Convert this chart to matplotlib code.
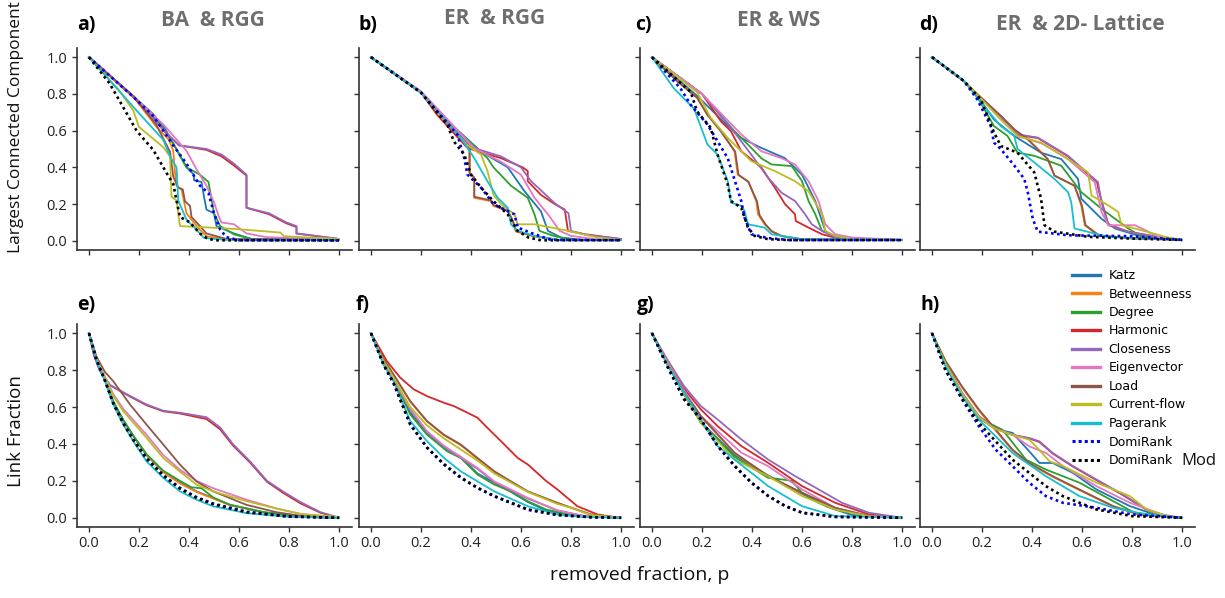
import matplotlib
matplotlib.use('Agg')
import matplotlib.pyplot as plt
from matplotlib.lines import Line2D

# ---------------- data: (removed fraction p, value) breakpoints ----------------
NAMES = ['Katz', 'Betweenness', 'Degree', 'Harmonic', 'Closeness', 'Eigenvector',
         'Load', 'Current-flow', 'Pagerank', 'DomiRank', 'DomiRank']
TITLES = ['BA  & RGG', 'ER  & RGG', 'ER & WS', 'ER  & 2D- Lattice']
LETTERS_TOP = ['a)', 'b)', 'c)', 'd)']
LETTERS_BOT = ['e)', 'f)', 'g)', 'h)']
TICKS = [0.0, 0.2, 0.4, 0.6, 0.8, 1.0]

# Panel a: BA & RGG, largest connected component
A_KATZ = [(0, 1), (0.18, 0.78), (0.30, 0.62), (0.39, 0.40), (0.42, 0.36), (0.42, 0.33), (0.45, 0.32), (0.46, 0.24), (0.47, 0.17), (0.50, 0.15), (0.51, 0.08), (0.58, 0.04), (0.65, 0.01), (1.0, 0.005)]
A_BETW = [(0, 1), (0.18, 0.78), (0.27, 0.62), (0.32, 0.55), (0.337, 0.49), (0.344, 0.37), (0.35, 0.30), (0.37, 0.28), (0.39, 0.15), (0.41, 0.115), (0.444, 0.06), (0.47, 0.025), (0.55, 0.008), (1.0, 0.005)]
A_DEG = [(0, 1), (0.18, 0.785), (0.257, 0.69), (0.337, 0.53), (0.39, 0.40), (0.444, 0.36), (0.478, 0.32), (0.50, 0.15), (0.525, 0.08), (0.58, 0.035), (0.65, 0.01), (1.0, 0.005)]
A_HARM = [(0, 1), (0.18, 0.78), (0.30, 0.60), (0.36, 0.52), (0.47, 0.495), (0.53, 0.46), (0.58, 0.41), (0.63, 0.355), (0.63, 0.18), (0.72, 0.145), (0.79, 0.095), (0.83, 0.075), (0.83, 0.04), (1.0, 0.01)]
A_CLOS = [(0, 1), (0.18, 0.78), (0.30, 0.60), (0.36, 0.52), (0.47, 0.50), (0.53, 0.47), (0.58, 0.42), (0.63, 0.36), (0.63, 0.18), (0.72, 0.15), (0.79, 0.10), (0.83, 0.08), (0.83, 0.04), (1.0, 0.01)]
A_EIG = [(0, 1), (0.18, 0.785), (0.30, 0.63), (0.39, 0.49), (0.43, 0.39), (0.47, 0.30), (0.50, 0.21), (0.52, 0.13), (0.53, 0.10), (0.58, 0.09), (0.63, 0.04), (0.71, 0.02), (1.0, 0.005)]
A_LOAD = [(0, 1), (0.18, 0.785), (0.27, 0.63), (0.324, 0.485), (0.337, 0.35), (0.357, 0.29), (0.375, 0.28), (0.384, 0.215), (0.404, 0.19), (0.41, 0.13), (0.444, 0.08), (0.47, 0.04), (0.55, 0.01), (1.0, 0.005)]
A_CURR = [(0, 1), (0.12, 0.82), (0.177, 0.71), (0.2, 0.62), (0.297, 0.51), (0.324, 0.46), (0.33, 0.24), (0.35, 0.22), (0.364, 0.08), (0.444, 0.075), (0.58, 0.065), (0.766, 0.045), (0.78, 0.025), (1.0, 0.01)]
A_PAGE = [(0, 1), (0.19, 0.71), (0.297, 0.55), (0.324, 0.46), (0.35, 0.40), (0.357, 0.22), (0.39, 0.115), (0.43, 0.06), (0.46, 0.016), (0.55, 0.005), (1.0, 0.005)]
A_DOMI = [(0, 1), (0.18, 0.78), (0.257, 0.68), (0.337, 0.52), (0.39, 0.42), (0.444, 0.30), (0.478, 0.26), (0.50, 0.15), (0.525, 0.06), (0.55, 0.02), (0.6, 0.003), (1.0, 0.002)]
A_MOD = [(0, 1), (0.083, 0.856), (0.19, 0.60), (0.257, 0.495), (0.31, 0.37), (0.337, 0.31), (0.35, 0.22), (0.364, 0.13), (0.404, 0.10), (0.444, 0.04), (0.47, 0.016), (0.5, 0.003), (1.0, 0.002)]

# Panel b: ER & RGG, largest connected component
B_KATZ = [(0, 1), (0.2, 0.807), (0.3, 0.66), (0.44, 0.486), (0.547, 0.40), (0.614, 0.27), (0.68, 0.16), (0.708, 0.054), (0.76, 0.018), (0.85, 0.005), (1.0, 0.005)]
B_BETW = [(0, 1), (0.2, 0.807), (0.3, 0.65), (0.373, 0.54), (0.393, 0.505), (0.393, 0.37), (0.413, 0.34), (0.413, 0.234), (0.48, 0.216), (0.49, 0.19), (0.547, 0.162), (0.567, 0.108), (0.58, 0.05), (0.65, 0.025), (0.75, 0.005), (1.0, 0.005)]
B_DEG = [(0, 1), (0.2, 0.81), (0.3, 0.66), (0.466, 0.45), (0.49, 0.40), (0.56, 0.30), (0.627, 0.234), (0.654, 0.144), (0.674, 0.054), (0.73, 0.027), (0.8, 0.005), (1.0, 0.005)]
B_HARM = [(0, 1), (0.2, 0.807), (0.265, 0.685), (0.386, 0.505), (0.52, 0.45), (0.607, 0.40), (0.627, 0.38), (0.627, 0.325), (0.68, 0.25), (0.735, 0.2), (0.775, 0.17), (0.788, 0.054), (0.855, 0.036), (1.0, 0.01)]
B_CLOS = [(0, 1), (0.2, 0.807), (0.3, 0.66), (0.4, 0.51), (0.52, 0.46), (0.6, 0.40), (0.64, 0.325), (0.735, 0.205), (0.79, 0.15), (0.80, 0.054), (0.87, 0.03), (1.0, 0.01)]
B_EIG = [(0, 1), (0.2, 0.815), (0.3, 0.67), (0.413, 0.505), (0.52, 0.43), (0.6, 0.36), (0.654, 0.234), (0.708, 0.144), (0.755, 0.054), (0.8, 0.027), (0.9, 0.008), (1.0, 0.005)]
B_LOAD = [(0, 1), (0.2, 0.807), (0.3, 0.65), (0.373, 0.54), (0.395, 0.505), (0.395, 0.37), (0.413, 0.345), (0.413, 0.24), (0.48, 0.22), (0.49, 0.195), (0.547, 0.165), (0.567, 0.11), (0.58, 0.054), (0.65, 0.027), (0.75, 0.005), (1.0, 0.005)]
B_CURR = [(0, 1), (0.2, 0.807), (0.3, 0.65), (0.386, 0.52), (0.44, 0.47), (0.466, 0.38), (0.49, 0.25), (0.52, 0.2), (0.574, 0.144), (0.587, 0.09), (0.654, 0.09), (0.79, 0.054), (0.9, 0.02), (1.0, 0.005)]
B_PAGE = [(0, 1), (0.2, 0.807), (0.3, 0.65), (0.36, 0.56), (0.413, 0.45), (0.466, 0.324), (0.507, 0.234), (0.547, 0.18), (0.56, 0.09), (0.587, 0.054), (0.654, 0.027), (0.75, 0.005), (1.0, 0.005)]
B_DOMI = [(0, 1), (0.2, 0.807), (0.3, 0.65), (0.346, 0.577), (0.373, 0.45), (0.386, 0.36), (0.44, 0.29), (0.49, 0.2), (0.574, 0.144), (0.587, 0.072), (0.654, 0.036), (0.72, 0.005), (1.0, 0.003)]
B_MOD = [(0, 1), (0.2, 0.807), (0.306, 0.63), (0.332, 0.54), (0.373, 0.47), (0.4, 0.36), (0.44, 0.29), (0.49, 0.216), (0.547, 0.144), (0.587, 0.054), (0.63, 0.018), (0.68, 0.003), (1.0, 0.003)]

# Panel c: ER & WS, largest connected component
C_KATZ = [(0, 1), (0.18, 0.79), (0.3, 0.63), (0.357, 0.56), (0.437, 0.506), (0.532, 0.45), (0.6, 0.36), (0.653, 0.217), (0.68, 0.108), (0.693, 0.054), (0.733, 0.018), (0.8, 0.006), (1.0, 0.005)]
C_BETW = [(0, 1), (0.1, 0.87), (0.18, 0.78), (0.222, 0.687), (0.276, 0.597), (0.33, 0.488), (0.343, 0.36), (0.384, 0.325), (0.417, 0.217), (0.424, 0.145), (0.45, 0.09), (0.478, 0.054), (0.518, 0.027), (0.6, 0.008), (1.0, 0.005)]
C_DEG = [(0, 1), (0.2, 0.8), (0.33, 0.597), (0.384, 0.524), (0.437, 0.45), (0.478, 0.416), (0.559, 0.407), (0.6, 0.325), (0.626, 0.217), (0.653, 0.145), (0.68, 0.054), (0.733, 0.027), (0.8, 0.006), (1.0, 0.005)]
C_HARM = [(0, 1), (0.2, 0.8), (0.276, 0.65), (0.316, 0.597), (0.357, 0.488), (0.437, 0.4), (0.491, 0.29), (0.532, 0.2), (0.572, 0.145), (0.575, 0.108), (0.626, 0.072), (0.68, 0.036), (0.75, 0.01), (1.0, 0.005)]
C_CLOS = [(0, 1), (0.2, 0.8), (0.316, 0.615), (0.397, 0.47), (0.464, 0.344), (0.518, 0.262), (0.572, 0.217), (0.612, 0.145), (0.639, 0.09), (0.68, 0.054), (0.733, 0.018), (0.8, 0.008), (1.0, 0.005)]
C_EIG = [(0, 1), (0.2, 0.8), (0.357, 0.58), (0.437, 0.488), (0.518, 0.45), (0.572, 0.416), (0.626, 0.325), (0.666, 0.217), (0.693, 0.09), (0.733, 0.036), (0.8, 0.018), (1.0, 0.005)]
C_LOAD = [(0, 1), (0.1, 0.87), (0.18, 0.78), (0.222, 0.685), (0.276, 0.595), (0.333, 0.485), (0.346, 0.36), (0.386, 0.32), (0.42, 0.215), (0.43, 0.14), (0.455, 0.088), (0.48, 0.05), (0.52, 0.025), (0.6, 0.008), (1.0, 0.005)]
C_CURR = [(0, 1), (0.18, 0.81), (0.235, 0.67), (0.303, 0.56), (0.397, 0.434), (0.491, 0.38), (0.572, 0.325), (0.626, 0.27), (0.68, 0.145), (0.693, 0.054), (0.733, 0.027), (0.8, 0.008), (1.0, 0.005)]
C_PAGE = [(0, 1), (0.0875, 0.83), (0.168, 0.72), (0.222, 0.524), (0.262, 0.47), (0.303, 0.325), (0.316, 0.208), (0.357, 0.19), (0.37, 0.163), (0.384, 0.09), (0.45, 0.072), (0.478, 0.036), (0.6, 0.009), (1.0, 0.005)]
C_DOMI = [(0, 1), (0.114, 0.83), (0.155, 0.74), (0.222, 0.633), (0.303, 0.45), (0.357, 0.217), (0.37, 0.127), (0.397, 0.036), (0.464, 0.015), (0.55, 0.004), (1.0, 0.004)]
C_MOD = [(0, 1), (0.155, 0.81), (0.18, 0.705), (0.235, 0.615), (0.262, 0.47), (0.303, 0.307), (0.316, 0.217), (0.357, 0.18), (0.384, 0.072), (0.41, 0.027), (0.464, 0.009), (0.55, 0.004), (1.0, 0.004)]

# Panel d: ER & 2D lattice, largest connected component
D_KATZ = [(0, 1), (0.128, 0.87), (0.168, 0.815), (0.248, 0.66), (0.329, 0.571), (0.436, 0.48), (0.517, 0.445), (0.584, 0.337), (0.597, 0.229), (0.624, 0.193), (0.678, 0.12), (0.732, 0.067), (0.82, 0.03), (1.0, 0.005)]
D_BETW = [(0, 1), (0.128, 0.87), (0.168, 0.815), (0.275, 0.68), (0.329, 0.607), (0.383, 0.553), (0.463, 0.445), (0.49, 0.355), (0.57, 0.3), (0.597, 0.193), (0.611, 0.085), (0.664, 0.03), (0.8, 0.013), (1.0, 0.005)]
D_DEG = [(0, 1), (0.128, 0.87), (0.168, 0.815), (0.248, 0.625), (0.302, 0.571), (0.342, 0.48), (0.409, 0.463), (0.517, 0.409), (0.597, 0.265), (0.678, 0.175), (0.732, 0.12), (0.785, 0.067), (0.839, 0.022), (1.0, 0.003)]
D_HARM = [(0, 1), (0.128, 0.87), (0.168, 0.815), (0.275, 0.675), (0.342, 0.575), (0.423, 0.56), (0.544, 0.46), (0.66, 0.32), (0.666, 0.28), (0.68, 0.21), (0.705, 0.09), (0.785, 0.05), (0.9, 0.022), (1.0, 0.005)]
D_CLOS = [(0, 1), (0.128, 0.87), (0.168, 0.815), (0.275, 0.68), (0.342, 0.58), (0.423, 0.562), (0.544, 0.463), (0.664, 0.319), (0.678, 0.21), (0.705, 0.085), (0.785, 0.049), (0.9, 0.022), (1.0, 0.005)]
D_EIG = [(0, 1), (0.128, 0.87), (0.168, 0.815), (0.275, 0.67), (0.342, 0.57), (0.44, 0.53), (0.544, 0.445), (0.651, 0.319), (0.678, 0.157), (0.705, 0.085), (0.812, 0.085), (0.866, 0.049), (0.9, 0.022), (1.0, 0.005)]
D_LOAD = [(0, 1), (0.128, 0.87), (0.168, 0.815), (0.275, 0.68), (0.329, 0.607), (0.383, 0.553), (0.463, 0.445), (0.49, 0.355), (0.57, 0.3), (0.6, 0.19), (0.614, 0.085), (0.668, 0.03), (0.8, 0.013), (1.0, 0.005)]
D_CURR = [(0, 1), (0.128, 0.87), (0.168, 0.815), (0.275, 0.66), (0.342, 0.571), (0.436, 0.535), (0.544, 0.445), (0.624, 0.373), (0.638, 0.247), (0.705, 0.193), (0.745, 0.157), (0.758, 0.085), (0.812, 0.067), (0.933, 0.022), (1.0, 0.005)]
D_PAGE = [(0, 1), (0.128, 0.87), (0.208, 0.733), (0.275, 0.625), (0.329, 0.571), (0.342, 0.5), (0.409, 0.427), (0.49, 0.337), (0.544, 0.265), (0.557, 0.21), (0.57, 0.067), (0.624, 0.049), (0.7, 0.022), (1.0, 0.005)]
D_DOMI = [(0, 1), (0.128, 0.87), (0.181, 0.77), (0.235, 0.625), (0.248, 0.535), (0.275, 0.5), (0.329, 0.41), (0.369, 0.337), (0.383, 0.265), (0.403, 0.12), (0.423, 0.05), (0.544, 0.03), (0.8, 0.025), (1.0, 0.005)]
D_MOD = [(0, 1), (0.128, 0.87), (0.195, 0.77), (0.248, 0.59), (0.275, 0.517), (0.342, 0.48), (0.409, 0.373), (0.436, 0.23), (0.45, 0.085), (0.49, 0.05), (0.624, 0.022), (0.8, 0.012), (1.0, 0.005)]

# Panel e: BA & RGG, link fraction
E_KATZ = [(0, 1), (0.031, 0.855), (0.064, 0.745), (0.097, 0.63), (0.137, 0.53), (0.177, 0.445), (0.23, 0.342), (0.297, 0.25), (0.364, 0.19), (0.43, 0.143), (0.497, 0.107), (0.564, 0.07), (0.7, 0.03), (0.85, 0.005), (1.0, 0.0)]
E_BETW = [(0, 1), (0.031, 0.855), (0.064, 0.745), (0.097, 0.628), (0.137, 0.527), (0.177, 0.442), (0.23, 0.338), (0.297, 0.247), (0.364, 0.186), (0.43, 0.14), (0.497, 0.104), (0.564, 0.068), (0.7, 0.028), (0.85, 0.005), (1.0, 0.0)]
E_DEG = [(0, 1), (0.031, 0.855), (0.064, 0.745), (0.097, 0.63), (0.137, 0.53), (0.177, 0.445), (0.23, 0.345), (0.297, 0.255), (0.364, 0.2), (0.41, 0.165), (0.45, 0.16), (0.497, 0.11), (0.564, 0.07), (0.7, 0.03), (0.85, 0.005), (1.0, 0.0)]
E_HARM = [(0, 1), (0.02, 0.88), (0.044, 0.795), (0.084, 0.718), (0.164, 0.657), (0.23, 0.61), (0.297, 0.577), (0.364, 0.565), (0.47, 0.535), (0.524, 0.48), (0.577, 0.39), (0.644, 0.3), (0.712, 0.195), (0.779, 0.133), (0.846, 0.078), (0.926, 0.027), (1.0, 0.0)]
E_CLOS = [(0, 1), (0.02, 0.88), (0.044, 0.795), (0.084, 0.72), (0.164, 0.66), (0.23, 0.614), (0.297, 0.58), (0.364, 0.569), (0.47, 0.545), (0.524, 0.49), (0.577, 0.397), (0.644, 0.306), (0.712, 0.2), (0.779, 0.14), (0.846, 0.085), (0.926, 0.03), (1.0, 0.0)]
E_EIG = [(0, 1), (0.031, 0.86), (0.064, 0.765), (0.097, 0.67), (0.137, 0.59), (0.23, 0.45), (0.297, 0.34), (0.364, 0.26), (0.43, 0.2), (0.497, 0.16), (0.63, 0.098), (0.75, 0.05), (0.85, 0.02), (1.0, 0.0)]
E_LOAD = [(0, 1), (0.031, 0.87), (0.064, 0.79), (0.097, 0.74), (0.164, 0.614), (0.23, 0.505), (0.297, 0.397), (0.364, 0.288), (0.43, 0.197), (0.497, 0.143), (0.63, 0.07), (0.75, 0.03), (0.85, 0.01), (1.0, 0.0)]
E_CURR = [(0, 1), (0.031, 0.86), (0.064, 0.76), (0.097, 0.66), (0.137, 0.578), (0.23, 0.433), (0.297, 0.324), (0.364, 0.25), (0.43, 0.18), (0.497, 0.143), (0.63, 0.09), (0.75, 0.05), (0.85, 0.02), (1.0, 0.005)]
E_PAGE = [(0, 1), (0.031, 0.85), (0.064, 0.74), (0.097, 0.614), (0.137, 0.505), (0.177, 0.415), (0.23, 0.306), (0.297, 0.216), (0.364, 0.143), (0.43, 0.098), (0.497, 0.062), (0.63, 0.025), (0.8, 0.005), (1.0, 0.0)]
E_DOMI = [(0, 1), (0.031, 0.852), (0.064, 0.743), (0.097, 0.62), (0.137, 0.515), (0.177, 0.425), (0.23, 0.325), (0.297, 0.232), (0.364, 0.162), (0.43, 0.112), (0.497, 0.077), (0.63, 0.033), (0.8, 0.007), (1.0, 0.0)]
E_MOD = [(0, 1), (0.031, 0.852), (0.064, 0.743), (0.097, 0.62), (0.137, 0.512), (0.177, 0.422), (0.23, 0.32), (0.297, 0.228), (0.364, 0.158), (0.43, 0.108), (0.497, 0.073), (0.63, 0.03), (0.8, 0.006), (1.0, 0.0)]

# Panel f: ER & RGG, link fraction
F_KATZ = [(0, 1), (0.05, 0.845), (0.09, 0.75), (0.157, 0.57), (0.224, 0.46), (0.305, 0.37), (0.359, 0.33), (0.426, 0.24), (0.493, 0.19), (0.56, 0.14), (0.628, 0.085), (0.7, 0.04), (0.8, 0.012), (1.0, 0.0)]
F_BETW = [(0, 1), (0.05, 0.86), (0.09, 0.775), (0.157, 0.63), (0.224, 0.522), (0.292, 0.447), (0.359, 0.394), (0.426, 0.32), (0.493, 0.25), (0.56, 0.195), (0.628, 0.14), (0.745, 0.08), (0.879, 0.018), (1.0, 0.0)]
F_DEG = [(0, 1), (0.05, 0.845), (0.09, 0.75), (0.157, 0.56), (0.224, 0.45), (0.305, 0.36), (0.359, 0.324), (0.426, 0.234), (0.493, 0.18), (0.56, 0.143), (0.628, 0.089), (0.7, 0.045), (0.8, 0.015), (1.0, 0.0)]
F_HARM = [(0, 1), (0.063, 0.85), (0.117, 0.759), (0.171, 0.696), (0.224, 0.659), (0.292, 0.623), (0.332, 0.605), (0.386, 0.569), (0.426, 0.542), (0.466, 0.487), (0.52, 0.415), (0.587, 0.324), (0.628, 0.288), (0.7, 0.2), (0.745, 0.154), (0.825, 0.063), (0.906, 0.018), (0.97, 0.004), (1.0, 0.0)]
F_CLOS = [(0, 1), (0.05, 0.85), (0.09, 0.755), (0.157, 0.585), (0.224, 0.465), (0.292, 0.385), (0.359, 0.325), (0.426, 0.265), (0.493, 0.193), (0.628, 0.104), (0.745, 0.04), (0.85, 0.01), (1.0, 0.0)]
F_EIG = [(0, 1), (0.05, 0.85), (0.09, 0.755), (0.157, 0.59), (0.224, 0.469), (0.292, 0.39), (0.359, 0.33), (0.426, 0.27), (0.493, 0.197), (0.628, 0.107), (0.745, 0.04), (0.85, 0.01), (1.0, 0.0)]
F_LOAD = [(0, 1), (0.05, 0.86), (0.09, 0.777), (0.157, 0.632), (0.224, 0.524), (0.292, 0.45), (0.359, 0.397), (0.426, 0.324), (0.493, 0.252), (0.56, 0.197), (0.628, 0.143), (0.745, 0.081), (0.879, 0.018), (1.0, 0.0)]
F_CURR = [(0, 1), (0.05, 0.85), (0.09, 0.76), (0.157, 0.6), (0.224, 0.5), (0.292, 0.43), (0.359, 0.37), (0.426, 0.31), (0.493, 0.24), (0.56, 0.19), (0.628, 0.14), (0.745, 0.075), (0.8, 0.055), (0.879, 0.015), (1.0, 0.0)]
F_PAGE = [(0, 1), (0.05, 0.83), (0.09, 0.74), (0.157, 0.524), (0.224, 0.415), (0.292, 0.324), (0.359, 0.252), (0.426, 0.197), (0.493, 0.143), (0.628, 0.062), (0.745, 0.018), (0.85, 0.004), (1.0, 0.0)]
F_DOMI = [(0, 1), (0.05, 0.83), (0.09, 0.73), (0.157, 0.505), (0.224, 0.379), (0.292, 0.288), (0.359, 0.216), (0.426, 0.161), (0.493, 0.116), (0.628, 0.043), (0.745, 0.015), (0.88, 0.003), (1.0, 0.0)]
F_MOD = [(0, 1), (0.05, 0.83), (0.09, 0.73), (0.157, 0.507), (0.224, 0.382), (0.292, 0.291), (0.359, 0.219), (0.426, 0.163), (0.493, 0.118), (0.628, 0.045), (0.745, 0.016), (0.88, 0.003), (1.0, 0.0)]

# Panel g: ER & WS, link fraction
G_KATZ = [(0, 1), (0.06, 0.84), (0.128, 0.67), (0.195, 0.52), (0.33, 0.34), (0.464, 0.23), (0.6, 0.13), (0.7, 0.06), (0.8, 0.015), (1.0, 0.0)]
G_BETW = [(0, 1), (0.06, 0.84), (0.128, 0.678), (0.195, 0.55), (0.33, 0.35), (0.464, 0.224), (0.6, 0.134), (0.733, 0.052), (0.868, 0.008), (1.0, 0.0)]
G_DEG = [(0, 1), (0.06, 0.84), (0.128, 0.67), (0.195, 0.515), (0.33, 0.33), (0.464, 0.217), (0.518, 0.208), (0.56, 0.2), (0.6, 0.136), (0.666, 0.081), (0.733, 0.045), (0.868, 0.009), (1.0, 0.0)]
G_HARM = [(0, 1), (0.06, 0.85), (0.128, 0.70), (0.195, 0.588), (0.262, 0.497), (0.357, 0.389), (0.464, 0.298), (0.6, 0.172), (0.733, 0.081), (0.868, 0.018), (1.0, 0.0)]
G_CLOS = [(0, 1), (0.06, 0.86), (0.128, 0.714), (0.195, 0.606), (0.262, 0.533), (0.357, 0.425), (0.464, 0.316), (0.572, 0.226), (0.666, 0.154), (0.76, 0.081), (0.868, 0.027), (1.0, 0.0)]
G_EIG = [(0, 1), (0.06, 0.85), (0.128, 0.69), (0.195, 0.552), (0.357, 0.353), (0.464, 0.28), (0.6, 0.154), (0.733, 0.054), (0.868, 0.01), (1.0, 0.0)]
G_LOAD = [(0, 1), (0.06, 0.84), (0.128, 0.68), (0.195, 0.552), (0.33, 0.353), (0.464, 0.226), (0.6, 0.136), (0.733, 0.054), (0.868, 0.009), (1.0, 0.0)]
G_CURR = [(0, 1), (0.06, 0.84), (0.128, 0.67), (0.195, 0.515), (0.33, 0.316), (0.464, 0.226), (0.6, 0.118), (0.733, 0.045), (0.868, 0.008), (1.0, 0.0)]
G_PAGE = [(0, 1), (0.06, 0.83), (0.128, 0.678), (0.195, 0.533), (0.262, 0.389), (0.33, 0.316), (0.464, 0.172), (0.6, 0.063), (0.733, 0.009), (1.0, 0.0)]
G_DOMI = [(0, 1), (0.06, 0.823), (0.128, 0.642), (0.195, 0.533), (0.262, 0.389), (0.33, 0.28), (0.397, 0.19), (0.464, 0.118), (0.532, 0.063), (0.6, 0.027), (0.733, 0.005), (1.0, 0.0)]
G_MOD = [(0, 1), (0.06, 0.825), (0.128, 0.645), (0.195, 0.535), (0.262, 0.392), (0.33, 0.283), (0.397, 0.192), (0.464, 0.12), (0.532, 0.065), (0.6, 0.028), (0.733, 0.005), (1.0, 0.0)]

# Panel h: ER & 2D lattice, link fraction
H_KATZ = [(0, 1), (0.054, 0.83), (0.121, 0.67), (0.188, 0.54), (0.255, 0.48), (0.322, 0.46), (0.389, 0.36), (0.43, 0.297), (0.483, 0.297), (0.564, 0.243), (0.658, 0.153), (0.792, 0.063), (0.89, 0.018), (1.0, 0.0)]
H_BETW = [(0, 1), (0.054, 0.848), (0.121, 0.705), (0.188, 0.58), (0.255, 0.472), (0.322, 0.365), (0.389, 0.293), (0.483, 0.222), (0.59, 0.15), (0.725, 0.06), (0.83, 0.017), (1.0, 0.0)]
H_DEG = [(0, 1), (0.054, 0.83), (0.121, 0.67), (0.188, 0.54), (0.282, 0.477), (0.376, 0.315), (0.456, 0.261), (0.59, 0.19), (0.725, 0.09), (0.81, 0.027), (1.0, 0.0)]
H_HARM = [(0, 1), (0.054, 0.836), (0.121, 0.674), (0.188, 0.548), (0.255, 0.484), (0.322, 0.448), (0.389, 0.43), (0.43, 0.41), (0.483, 0.348), (0.564, 0.277), (0.658, 0.204), (0.752, 0.132), (0.859, 0.043), (0.94, 0.008), (1.0, 0.0)]
H_CLOS = [(0, 1), (0.054, 0.838), (0.121, 0.676), (0.188, 0.55), (0.255, 0.486), (0.322, 0.45), (0.389, 0.432), (0.43, 0.414), (0.483, 0.351), (0.564, 0.28), (0.658, 0.207), (0.752, 0.135), (0.859, 0.045), (0.94, 0.009), (1.0, 0.0)]
H_EIG = [(0, 1), (0.054, 0.835), (0.121, 0.67), (0.188, 0.545), (0.255, 0.48), (0.322, 0.45), (0.389, 0.387), (0.456, 0.351), (0.524, 0.28), (0.658, 0.171), (0.792, 0.081), (0.92, 0.018), (1.0, 0.0)]
H_LOAD = [(0, 1), (0.054, 0.85), (0.121, 0.71), (0.188, 0.586), (0.255, 0.477), (0.322, 0.369), (0.389, 0.297), (0.483, 0.225), (0.59, 0.153), (0.725, 0.063), (0.83, 0.018), (1.0, 0.0)]
H_CURR = [(0, 1), (0.054, 0.835), (0.121, 0.67), (0.188, 0.545), (0.255, 0.48), (0.322, 0.45), (0.389, 0.423), (0.416, 0.387), (0.47, 0.306), (0.524, 0.28), (0.658, 0.19), (0.792, 0.117), (0.859, 0.045), (0.94, 0.009), (1.0, 0.0)]
H_PAGE = [(0, 1), (0.054, 0.82), (0.121, 0.657), (0.188, 0.531), (0.322, 0.351), (0.456, 0.225), (0.59, 0.117), (0.725, 0.054), (0.86, 0.018), (1.0, 0.0)]
H_DOMI = [(0, 1), (0.054, 0.8), (0.121, 0.64), (0.188, 0.495), (0.255, 0.369), (0.322, 0.28), (0.389, 0.19), (0.456, 0.117), (0.524, 0.081), (0.658, 0.054), (0.8, 0.018), (1.0, 0.0)]
H_MOD = [(0, 1), (0.054, 0.8), (0.121, 0.645), (0.188, 0.513), (0.322, 0.315), (0.389, 0.243), (0.456, 0.171), (0.524, 0.117), (0.658, 0.045), (0.8, 0.009), (1.0, 0.0)]

PANELS_TOP = [
    [A_KATZ, A_BETW, A_DEG, A_HARM, A_CLOS, A_EIG, A_LOAD, A_CURR, A_PAGE, A_DOMI, A_MOD],
    [B_KATZ, B_BETW, B_DEG, B_HARM, B_CLOS, B_EIG, B_LOAD, B_CURR, B_PAGE, B_DOMI, B_MOD],
    [C_KATZ, C_BETW, C_DEG, C_HARM, C_CLOS, C_EIG, C_LOAD, C_CURR, C_PAGE, C_DOMI, C_MOD],
    [D_KATZ, D_BETW, D_DEG, D_HARM, D_CLOS, D_EIG, D_LOAD, D_CURR, D_PAGE, D_DOMI, D_MOD],
]
PANELS_BOT = [
    [E_KATZ, E_BETW, E_DEG, E_HARM, E_CLOS, E_EIG, E_LOAD, E_CURR, E_PAGE, E_DOMI, E_MOD],
    [F_KATZ, F_BETW, F_DEG, F_HARM, F_CLOS, F_EIG, F_LOAD, F_CURR, F_PAGE, F_DOMI, F_MOD],
    [G_KATZ, G_BETW, G_DEG, G_HARM, G_CLOS, G_EIG, G_LOAD, G_CURR, G_PAGE, G_DOMI, G_MOD],
    [H_KATZ, H_BETW, H_DEG, H_HARM, H_CLOS, H_EIG, H_LOAD, H_CURR, H_PAGE, H_DOMI, H_MOD],
]

# ---------------- styles ----------------
COLORS = ['#1f77b4', '#ff7f0e', '#2ca02c', '#d62728', '#9467bd', '#e377c2',
          '#8c564b', '#bcbd22', '#17becf', '#0000ff', '#000000']
STYLES = ['-'] * 9 + [':', ':']
SPINE = '#333333'
TITLE_GRAY = '#6e6e6e'

plt.rcParams['font.family'] = ['Open Sans', 'DejaVu Sans']

W_PX, H_PX = 1225, 598
fig = plt.figure(figsize=(W_PX / 100, H_PX / 100), dpi=100)

lefts = [76.5, 358.5, 639.5, 919.5]
ax_w = 275
top_row = (48, 250)
bot_row = (324, 527)


def add_ax(left_px, top_px, bottom_px):
    return fig.add_axes([left_px / W_PX, 1 - bottom_px / H_PX,
                         ax_w / W_PX, (bottom_px - top_px) / H_PX])


def style_ax(ax, show_x, show_y):
    ax.set_xlim(-0.05, 1.05)
    ax.set_ylim(-0.05, 1.05)
    for s in ['top', 'right']:
        ax.spines[s].set_visible(False)
    for s in ['left', 'bottom']:
        ax.spines[s].set_color(SPINE)
        ax.spines[s].set_linewidth(1.2)
    ax.set_xticks(TICKS)
    ax.set_yticks(TICKS)
    ax.tick_params(direction='out', length=3.5, width=1.0, color=SPINE,
                   labelsize=10.5, labelcolor='#222222', pad=3)
    if not show_x:
        ax.set_xticklabels([])
    else:
        ax.set_xticklabels([f'{t:.1f}' for t in TICKS])
    if not show_y:
        ax.set_yticklabels([])
    else:
        ax.set_yticklabels([f'{t:.1f}' for t in TICKS])


def draw(ax, panel):
    for i, series in enumerate(panel):
        ps = [pt[0] for pt in series]
        ys = [pt[1] for pt in series]
        if STYLES[i] == ':':
            ax.plot(ps, ys, color=COLORS[i], lw=1.9, ls=(0, (1, 1.3)), zorder=3 + i)
        else:
            ax.plot(ps, ys, color=COLORS[i], lw=1.3, zorder=2 + i * 0.01)


for c in range(4):
    ax = add_ax(lefts[c], *top_row)
    draw(ax, PANELS_TOP[c])
    style_ax(ax, False, c == 0)
    ax2 = add_ax(lefts[c], *bot_row)
    draw(ax2, PANELS_BOT[c])
    style_ax(ax2, True, c == 0)

# panel letters
top_letter_x = [77, 358, 635, 919]
bot_letter_x = [77, 356, 637, 921]
for c in range(4):
    fig.text(top_letter_x[c] / W_PX, 1 - 25 / H_PX, LETTERS_TOP[c], fontsize=14,
             fontweight='bold', color='black', va='center', ha='left')
    fig.text(bot_letter_x[c] / W_PX, 1 - 305 / H_PX, LETTERS_BOT[c], fontsize=14,
             fontweight='bold', color='black', va='center', ha='left')

# titles
title_x = [213, 495, 779, 1080]
title_y = [21, 19, 21, 24]
for c in range(4):
    fig.text(title_x[c] / W_PX, 1 - title_y[c] / H_PX, TITLES[c], fontsize=15,
             fontweight='bold', color=TITLE_GRAY, va='center', ha='center')

# axis labels
fig.text(16 / W_PX, 1 - 127 / H_PX, 'Largest Connected Component', rotation=90,
         fontsize=12.5, va='center', ha='center', color='#111111')
fig.text(16 / W_PX, 1 - 431 / H_PX, 'Link Fraction', rotation=90,
         fontsize=13.5, va='center', ha='center', color='#111111')
fig.text(640 / W_PX, 1 - 575 / H_PX, 'removed fraction, p', fontsize=14,
         va='center', ha='center', color='#111111')

# legend
handles = []
for i in range(11):
    if STYLES[i] == ':':
        handles.append(Line2D([], [], color=COLORS[i], lw=2.2, ls=(0, (1, 1))))
    else:
        handles.append(Line2D([], [], color=COLORS[i], lw=2.4))
fig.legend(handles, NAMES, loc='upper left',
           bbox_to_anchor=(1072 / W_PX, 1 - 269 / H_PX),
           frameon=False, borderpad=0, borderaxespad=0,
           prop={'family': 'DejaVu Sans', 'size': 9},
           handlelength=2.2, handletextpad=0.7, labelspacing=0.44)
fig.text(1181 / W_PX, 1 - 465 / H_PX, 'Mod', fontsize=12, va='baseline',
         ha='left', color='#111111')

fig.savefig('out.png', dpi=100)
